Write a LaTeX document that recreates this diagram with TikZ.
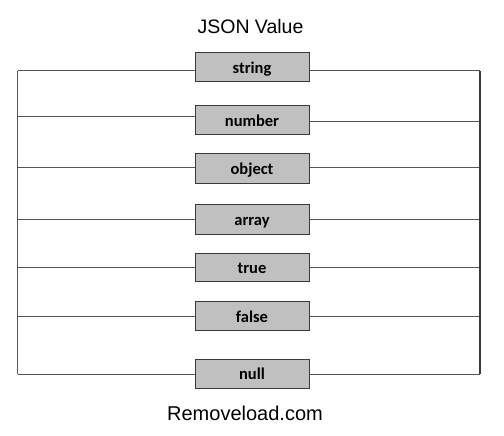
\documentclass[tikz,border=0pt]{standalone}
\usepackage{fontspec}
\setmainfont{Liberation Sans}
\newfontfamily\boxfont{Carlito}
\definecolor{boxfill}{HTML}{C0C0C0}
\definecolor{boxline}{HTML}{3A3A3A}
\definecolor{wire}{HTML}{555555}
\begin{document}
\begin{tikzpicture}[x=1pt,y=-1pt,
  valbox/.style={draw=boxline,fill=boxfill,line width=1pt,minimum width=114pt,minimum height=29pt,inner sep=0pt,text height=12.5pt,text depth=0pt,font=\boxfont\bfseries\fontsize{16.5}{18}\selectfont},
  wireline/.style={draw=wire,line width=1pt},
  rail/.style={draw=boxline,line width=1.2pt}]
\useasboundingbox (0,0) rectangle (504,436);
\node[font=\fontsize{19.5}{22}\selectfont] (title) at (250.5,27) {JSON Value};
\node[font=\fontsize{20}{22}\selectfont] (footer) at (245,413) {Removeload.com};
\node[valbox] (s) at (252,67.5) {string};
\node[valbox] (n) at (252,120.5) {number};
\node[valbox,minimum height=30pt] (o) at (252,168) {object};
\node[valbox,minimum height=30pt] (a) at (252,219) {array};
\node[valbox,minimum height=28pt] (t) at (252,267) {true};
\node[valbox] (f) at (252,316) {false};
\node[valbox] (nu) at (252,373.5) {null};
% left rail points
\coordinate (L1) at (17.5,71);
\coordinate (L2) at (17.5,117);
\coordinate (L3) at (17.5,167);
\coordinate (L4) at (17.5,219);
\coordinate (L5) at (17.5,267);
\coordinate (L6) at (17.5,316);
\coordinate (L7) at (17.5,374);
% right rail points
\coordinate (R1) at (480,71);
\coordinate (R2) at (480,122);
\coordinate (R3) at (480,167);
\coordinate (R4) at (480,219);
\coordinate (R5) at (480,267);
\coordinate (R6) at (480,316);
\coordinate (R7) at (480,374);
\draw[wireline] (L1) -- (L1 -| s.west);
\draw[wireline] (L2) -- (L2 -| n.west);
\draw[wireline] (L3) -- (L3 -| o.west);
\draw[wireline] (L4) -- (L4 -| a.west);
\draw[wireline] (L5) -- (L5 -| t.west);
\draw[wireline] (L6) -- (L6 -| f.west);
\draw[wireline] (L7) -- (L7 -| nu.west);
\draw[wireline] (R1 -| s.east) -- (R1);
\draw[wireline] (R2 -| n.east) -- (R2);
\draw[wireline] (R3 -| o.east) -- (R3);
\draw[wireline] (R4 -| a.east) -- (R4);
\draw[wireline] (R5 -| t.east) -- (R5);
\draw[wireline] (R6 -| f.east) -- (R6);
\draw[wireline] (R7 -| nu.east) -- (R7);
\draw[rail,draw=wire] (L1) -- (L7);
\draw[rail] (R1) -- (R7);
\end{tikzpicture}
\end{document}
